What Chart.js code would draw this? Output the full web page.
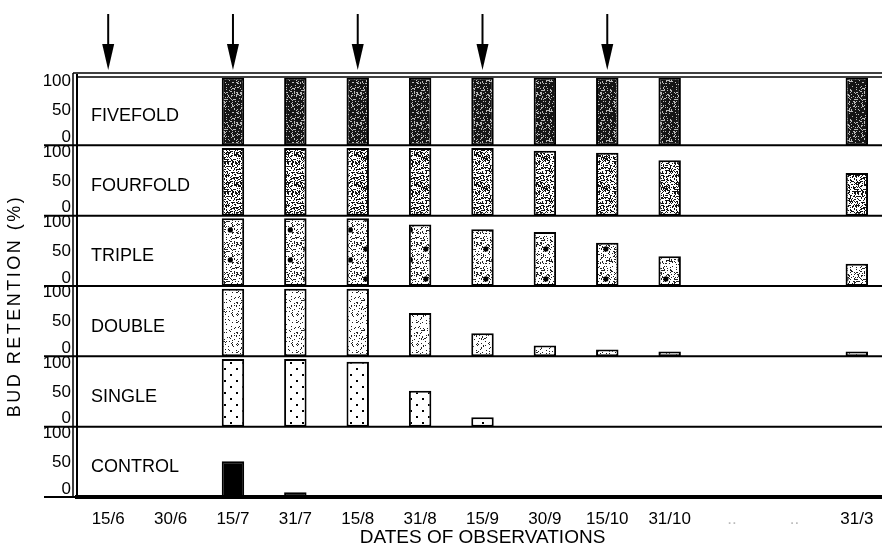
<!DOCTYPE html>
<html>
<head>
<meta charset="utf-8">
<script src="https://cdn.jsdelivr.net/npm/chart.js@4.4.1/dist/chart.umd.min.js"></script>
<style>
  html, body { margin: 0; padding: 0; background: #fff; overflow: hidden; }
  #wrap { width: 888px; height: 549px; }
</style>
</head>
<body>
<div id="wrap"><canvas id="chart"></canvas></div>
<script>
// --- data ---
const dates = ['15/6', '30/6', '15/7', '31/7', '15/8', '31/8', '15/9', '30/9', '15/10', '31/10', '..', '..', '31/3'];
const arrowDates = ['15/6', '15/7', '15/8', '15/9', '15/10'];
const panelNames = ['FIVEFOLD', 'FOURFOLD', 'TRIPLE', 'DOUBLE', 'SINGLE', 'CONTROL'];
const yTicks = [0, 50, 100];

const fivefold = [null, null, 100, 100, 100, 100, 100, 100, 100, 100, null, null, 100];
const fourfold = [null, null, 100, 100, 100, 100, 100, 96, 93, 82, null, null, 63];
const triple   = [null, null, 100, 100, 100, 91, 84, 80, 64, 44, null, null, 33];
const double   = [null, null, 100, 100, 100, 64, 34, 16, 10, 7, null, null, 7];
const single   = [null, null, 100, 100, 96, 53, 14, null, null, null, null, null, null];
const control  = [null, null, 53, 7, null, null, null, null, null, null, null, null, null];

const FONT = '"Liberation Sans", Arial, sans-serif';

// --- bar textures (only decoration) ---
function hash(n) { const s = Math.sin(n * 127.1 + 311.7) * 43758.5453; return s - Math.floor(s); }
function texture(bg, fg, specks, size, bigDots, seed) {
    const c = document.createElement('canvas');
    c.width = c.height = 30;
    const g = c.getContext('2d');
    g.fillStyle = bg;
    g.fillRect(0, 0, 30, 30);
    g.fillStyle = fg;
    for (let i = 0; i < specks; i++) {
        g.fillRect(Math.floor(hash(i + seed) * 30), Math.floor(hash(i + seed + 777) * 30), size, size);
    }
    g.fillStyle = '#000';
    for (let i = 0; i < bigDots; i++) {
        g.beginPath();
        g.arc(4 + hash(i + seed + 99) * 22, 4 + hash(i + seed + 199) * 22, 2.6, 0, Math.PI * 2);
        g.fill();
    }
    return g.createPattern(c, 'repeat');
}
function dotGrid() {
    const c = document.createElement('canvas');
    c.width = c.height = 12;
    const g = c.getContext('2d');
    g.fillStyle = '#fff'; g.fillRect(0, 0, 12, 12);
    g.fillStyle = '#000';
    g.fillRect(2, 2, 2, 2); g.fillRect(8, 8, 2, 2);
    return g.createPattern(c, 'repeat');
}

const fills = [
    texture('#151515', '#bbb', 220, 1, 0, 1),
    texture('#fff', '#111', 480, 1, 0, 2),
    texture('#fff', '#222', 240, 1, 2, 3),
    texture('#fff', '#222', 110, 1, 0, 4),
    dotGrid(),
    '#000'
];
const series = [fivefold, fourfold, triple, double, single, control];
const panelIds = ['p0', 'p1', 'p2', 'p3', 'p4', 'p5'];

// --- scales: one stacked y axis per panel ---
const scales = {
    x: {
        type: 'category',
        offset: true,
        grid: { display: false, drawTicks: false },
        border: { display: true, color: '#000', width: 4 },
        ticks: {
            padding: 12,
            autoSkip: false,
            maxRotation: 0,
            font: { family: FONT, size: 17 },
            color: ctx => dates[ctx.index] === '..' ? '#bbb' : '#000'
        },
        title: {
            display: true,
            text: 'DATES OF OBSERVATIONS',
            font: { family: FONT, size: 19 },
            color: '#000',
            padding: { top: 0, bottom: 0 }
        },
        afterFit: s => { s.height = 52; s.paddingLeft = 0; s.paddingRight = 0; }
    }
};
panelIds.slice().reverse().forEach(id => {
    scales[id] = {
        type: 'linear',
        position: 'left',
        stack: 'panels',
        stackWeight: 1,
        min: 0,
        max: 104,
        grid: { display: false, drawTicks: false },
        border: { display: true, color: '#000', width: 2 },
        ticks: { display: false },
        afterBuildTicks: s => { s.ticks = yTicks.map(v => ({ value: v })); },
        afterFit: s => { s.width = 77; s.paddingTop = 0; s.paddingBottom = 0; }
    };
});

const datasets = series.map((data, i) => ({
    label: panelNames[i],
    data: data,
    yAxisID: panelIds[i],
    grouped: false,
    backgroundColor: fills[i],
    borderColor: '#000',
    borderWidth: 2,
    borderSkipped: false,
    barPercentage: 0.9,
    categoryPercentage: 0.4
}));

// tick numbers sit inside each band: 100 just below the top, 0 just above the line
const tickShift = { 0: -8, 50: -1, 100: 4 };

// panel frames, names, tick numbers, arrows, y title
const decor = {
    id: 'decor',
    afterDraw(chart) {
        const { ctx, chartArea: a } = chart;
        const line = (x1, y1, x2, y2, w) => {
            ctx.lineWidth = w;
            ctx.beginPath(); ctx.moveTo(x1, y1); ctx.lineTo(x2, y2); ctx.stroke();
        };
        ctx.save();
        ctx.strokeStyle = '#000';
        ctx.fillStyle = '#000';

        panelIds.forEach((id, i) => {
            const s = chart.scales[id];
            const y0 = s.getPixelForValue(0);
            line(44, y0, a.right, y0, 2);
            ctx.font = '18px ' + FONT;
            ctx.textBaseline = 'middle';
            ctx.textAlign = 'left';
            ctx.fillText(panelNames[i], a.left + 14, s.getPixelForValue(44));
            ctx.font = '17px ' + FONT;
            ctx.textAlign = 'right';
            yTicks.forEach(v => {
                ctx.fillText(String(v), a.left - 6, s.getPixelForValue(v) + tickShift[v]);
            });
        });

        line(a.left - 4, a.top - 2, a.right, a.top - 2, 1.5);
        line(a.left, a.top + 2, a.right, a.top + 2, 1.5);
        line(a.left - 4, a.top - 2, a.left - 4, a.bottom, 1.5);

        arrowDates.forEach(d => {
            const x = chart.scales.x.getPixelForValue(dates.indexOf(d));
            line(x, 14, x, 46, 2);
            ctx.beginPath();
            ctx.moveTo(x - 6, 44); ctx.lineTo(x + 6, 44); ctx.lineTo(x, 70);
            ctx.closePath(); ctx.fill();
        });

        ctx.translate(15, (a.top + a.bottom) / 2 + 20);
        ctx.rotate(-Math.PI / 2);
        ctx.font = '18px ' + FONT;
        ctx.letterSpacing = '2.5px';
        ctx.textAlign = 'center';
        ctx.textBaseline = 'middle';
        ctx.fillText('BUD RETENTION (%)', 0, 0);
        ctx.restore();
    }
};

new Chart(document.getElementById('chart'), {
    type: 'bar',
    data: { labels: dates, datasets: datasets },
    options: {
        responsive: true,
        maintainAspectRatio: false,
        animation: false,
        layout: { padding: { top: 75, left: 0, right: 0, bottom: 0 } },
        plugins: { legend: { display: false }, tooltip: { enabled: false } },
        scales: scales
    },
    plugins: [decor]
});
</script>
</body>
</html>
